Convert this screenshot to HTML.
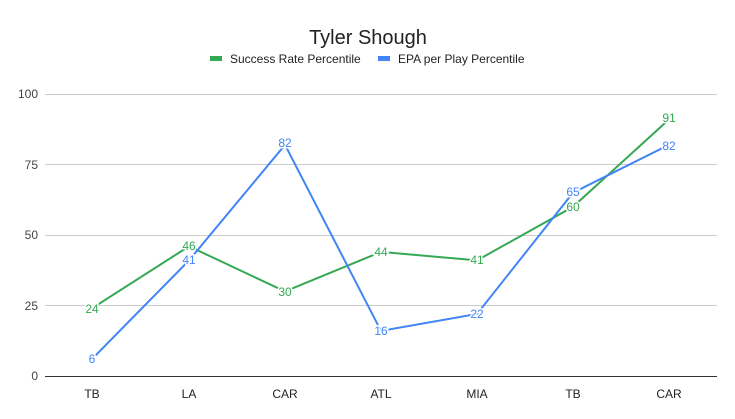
<!DOCTYPE html><html><head><meta charset="utf-8"><style>body{margin:0;background:#fff}svg{display:block;font-family:"Liberation Sans",Arial,sans-serif}</style></head><body>
<svg width="735" height="419" viewBox="0 0 735 419">
<rect width="735" height="419" fill="#fff"/>
<text x="368" y="44" font-size="20" text-anchor="middle" fill="#222">Tyler Shough</text>
<rect x="210" y="56" width="12" height="5" fill="#34a853"/>
<text x="230" y="63" font-size="12" fill="#222">Success Rate Percentile</text>
<rect x="378" y="56" width="12" height="5" fill="#4285f4"/>
<text x="398" y="63" font-size="12" fill="#222">EPA per Play Percentile</text>
<g stroke="#ccc" stroke-width="1">
<line x1="45" x2="717" y1="94.5" y2="94.5"/><line x1="45" x2="717" y1="164.5" y2="164.5"/><line x1="45" x2="717" y1="235.5" y2="235.5"/><line x1="45" x2="717" y1="305.5" y2="305.5"/></g>
<line x1="45" x2="717" y1="376.5" y2="376.5" stroke="#333"/>
<g font-size="12" fill="#444" text-anchor="end"><text x="38" y="98">100</text><text x="38" y="169">75</text><text x="38" y="239">50</text><text x="38" y="310">25</text><text x="38" y="380">0</text></g>
<g font-size="12" fill="#222" text-anchor="middle"><text x="92" y="398">TB</text><text x="189" y="398">LA</text><text x="285" y="398">CAR</text><text x="381" y="398">ATL</text><text x="477" y="398">MIA</text><text x="573" y="398">TB</text><text x="669" y="398">CAR</text></g>
<polyline fill="none" stroke="#34a853" stroke-width="2" points="92,308.3 189,246.3 285,291.4 381,251.9 477,260.4 573,206.8 669,119.4"/>
<polyline fill="none" stroke="#4285f4" stroke-width="2" points="92,359.1 189,260.4 285,144.8 381,330.9 477,314 573,192.7 669,144.8"/>
<g font-size="12" text-anchor="middle" stroke="#fff" stroke-width="3" paint-order="stroke" fill="#34a853">
<text x="92" y="313">24</text><text x="189" y="250">46</text><text x="285" y="296">30</text><text x="381" y="256">44</text><text x="477" y="264">41</text><text x="573" y="211">60</text><text x="669" y="122">91</text></g>
<g font-size="12" text-anchor="middle" stroke="#fff" stroke-width="3" paint-order="stroke" fill="#4285f4">
<text x="92" y="363">6</text><text x="189" y="264">41</text><text x="285" y="147">82</text><text x="381" y="335">16</text><text x="477" y="318">22</text><text x="573" y="196">65</text><text x="669" y="150">82</text></g>
</svg></body></html>
